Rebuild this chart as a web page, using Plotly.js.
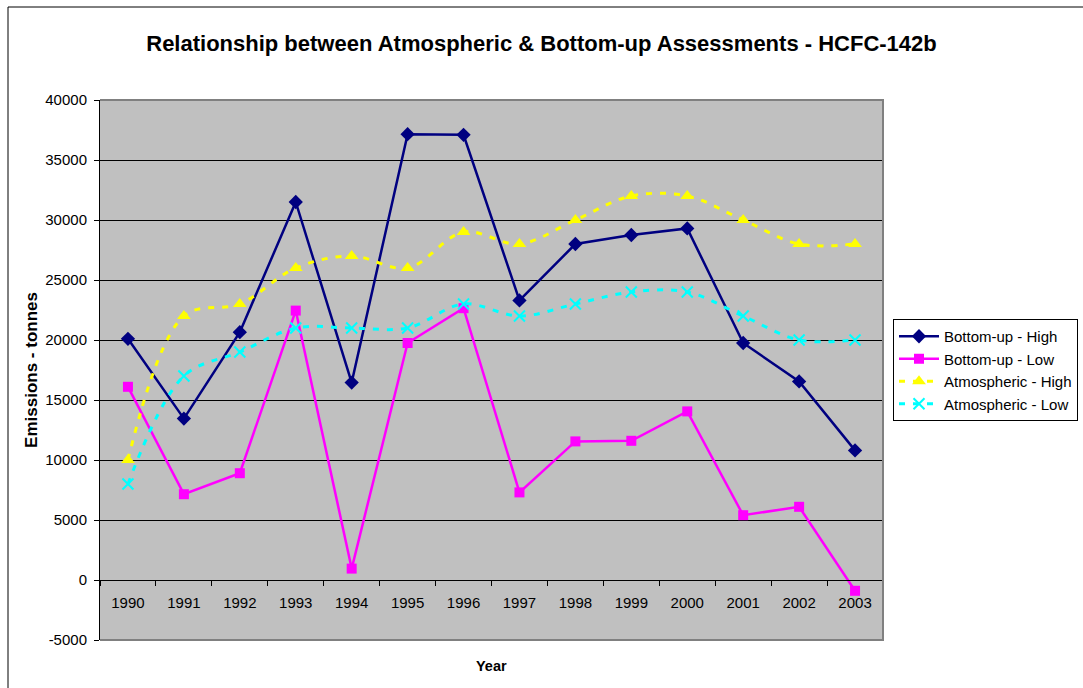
<!DOCTYPE html>
<html>
<head>
<meta charset="utf-8">
<script src="https://cdn.plot.ly/plotly-3.0.1.min.js"></script>
<style>
html,body{margin:0;padding:0;background:#fff;}
#chart{width:1083px;height:688px;}
</style>
</head>
<body>
<div id="chart"></div>
<script>
var years = ['1990','1991','1992','1993','1994','1995','1996','1997','1998','1999','2000','2001','2002','2003'];
var bottomUpHigh = [20100, 13450, 20650, 31500, 16450, 37150, 37100, 23300, 28000, 28750, 29300, 19750, 16550, 10800];
var bottomUpLow = [16100, 7150, 8900, 22450, 950, 19750, 22650, 7300, 11550, 11600, 14050, 5400, 6100, -900];
var atmosHigh = [10000, 22000, 23000, 26000, 27000, 26000, 29000, 28000, 30000, 32000, 32000, 30000, 28000, 28000];
var atmosLow = [8000, 17000, 19000, 21000, 21000, 21000, 23000, 22000, 23000, 24000, 24000, 22000, 20000, 20000];
var seriesNames = ['Bottom-up - High','Bottom-up - Low','Atmospheric - High','Atmospheric - Low'];
var yTicks = [-5000, 0, 5000, 10000, 15000, 20000, 25000, 30000, 35000, 40000];
var yTickText = yTicks.map(function(v){ return String(v); });

var traces = [
  {x: years, y: bottomUpHigh, name: seriesNames[0], type: 'scatter', mode: 'lines+markers',
   line: {color: '#000080', width: 2.5},
   marker: {symbol: 'diamond', size: 11, color: '#000080'}},
  {x: years, y: bottomUpLow, name: seriesNames[1], type: 'scatter', mode: 'lines+markers',
   line: {color: '#FF00FF', width: 2.5},
   marker: {symbol: 'square', size: 10, color: '#FF00FF'}},
  {x: years, y: atmosHigh, name: seriesNames[2], type: 'scatter', mode: 'lines+markers',
   line: {color: '#FFFF00', width: 3, dash: '6px,8px', shape: 'spline', smoothing: 1},
   marker: {symbol: 'triangle-up', size: 12, color: '#FFFF00'}},
  {x: years, y: atmosLow, name: seriesNames[3], type: 'scatter', mode: 'lines+markers',
   line: {color: '#00FFFF', width: 3, dash: '6px,8px', shape: 'spline', smoothing: 1},
   marker: {symbol: 'x-thin', size: 11, color: '#00FFFF', line: {color: '#00FFFF', width: 2}}}
];

var layout = {
  width: 1083, height: 688,
  margin: {l: 100, r: 200, t: 100, b: 48, autoexpand: false},
  paper_bgcolor: '#FFFFFF',
  plot_bgcolor: '#C0C0C0',
  font: {family: 'Liberation Sans, Arial, sans-serif', color: '#000', size: 15},
  title: {text: '<b>Relationship between Atmospheric & Bottom-up Assessments - HCFC-142b</b>',
          font: {size: 22, color: '#000'}, x: 0.5, xref: 'container', xanchor: 'center', y: 1 - 43/688, yanchor: 'middle', yref: 'container'},
  showlegend: true,
  legend: {x: (893-100)/783, xanchor: 'left', y: 0.5, yanchor: 'middle',
           bgcolor: '#FFFFFF', bordercolor: '#000', borderwidth: 1,
           font: {size: 15, color: '#000'}, itemwidth: 40, tracegroupgap: 0},
  xaxis: {type: 'category', anchor: 'free', position: 5000/45000,
          showline: true, linecolor: '#000', linewidth: 1,
          ticks: 'outside', tickson: 'boundaries', ticklen: 5, tickcolor: '#000',
          showgrid: false, zeroline: false, ticklabelstandoff: 9,
          tickfont: {size: 15, color: '#000'}, range: [-0.5, 13.5]},
  yaxis: {range: [-5000, 40000], tickmode: 'array', tickvals: yTicks, ticktext: yTickText,
          showline: true, linecolor: '#000', linewidth: 1,
          ticks: 'outside', ticklen: 5, tickcolor: '#000', ticklabelstandoff: 4,
          showgrid: true, gridcolor: '#000', gridwidth: 1, zeroline: false,
          tickfont: {size: 15, color: '#000'},
          title: {text: '<b>Emissions - tonnes</b>', font: {size: 17, color: '#000'}, standoff: 3}},
  annotations: [
    {text: '<b>Year</b>', xref: 'paper', yref: 'paper', x: 0.5, y: (640-666)/540,
     xanchor: 'center', yanchor: 'middle', showarrow: false, font: {size: 14.5, color: '#000'}}
  ],
  shapes: [
    {type: 'path', xref: 'paper', yref: 'paper', layer: 'above',
     path: 'M 0,1 L 1,1 L 1,0 L 0,0', line: {color: '#808080', width: 2}},
    {type: 'rect', xref: 'paper', yref: 'paper', layer: 'below',
     x0: (8-100)/783, x1: (1100-100)/783, y0: (640-700)/540, y1: (640-7)/540,
     line: {color: '#000', width: 1}, fillcolor: 'rgba(0,0,0,0)'}
  ]
};

Plotly.newPlot('chart', traces, layout, {displayModeBar: false, staticPlot: true});
</script>
</body>
</html>
